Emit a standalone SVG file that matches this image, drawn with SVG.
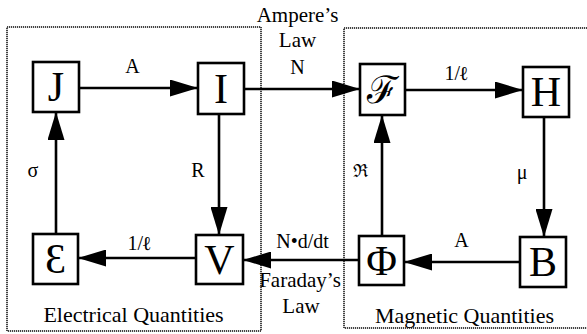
<svg xmlns="http://www.w3.org/2000/svg" width="587" height="334" viewBox="0 0 587 334" font-family="'Liberation Serif', 'Times New Roman', serif">
<defs>
<marker id="ah" markerUnits="userSpaceOnUse" markerWidth="28" markerHeight="17" refX="28" refY="8.5" orient="auto">
<path d="M0,0 L28,8.5 L0,17 Z" fill="#000"/>
</marker>
<style>
.frame{fill:none;stroke:#444;stroke-width:2;stroke-dasharray:1.2 0.8}
.box{fill:#fff;stroke:#000;stroke-width:2.6}
text{fill:#000;text-anchor:middle}
.big{font-size:42px}
.lbl{font-size:20px}
.ttl{font-size:22px}
.con{fill:none;stroke:#000;stroke-width:2.6;marker-end:url(#ah)}
</style>
</defs>
<rect fill="#fff" x="0" y="0" width="587" height="334"/>
<g id="electrical-frame">
<rect class="frame" x="7" y="27" width="254" height="304"/>
<text class="ttl" x="133.5" y="322">Electrical Quantities</text>
</g>
<g id="magnetic-frame">
<rect class="frame" x="344" y="28" width="250" height="300"/>
<text class="ttl" x="464.5" y="323">Magnetic Quantities</text>
</g>
<g id="connectors">
<line class="con" x1="79" y1="88" x2="198" y2="88"/>
<line class="con" x1="244" y1="89" x2="360" y2="89"/>
<line class="con" x1="405" y1="90" x2="523" y2="90"/>
<line class="con" x1="544" y1="117" x2="544" y2="237"/>
<line class="con" x1="520" y1="262" x2="404" y2="262"/>
<line class="con" x1="359" y1="260" x2="243" y2="260"/>
<line class="con" x1="196" y1="258" x2="78" y2="258"/>
<line class="con" x1="56" y1="234" x2="56" y2="112"/>
<line class="con" x1="219" y1="114" x2="219" y2="235"/>
<line class="con" x1="382" y1="236" x2="382" y2="115"/>
<text class="lbl" x="132.5" y="73">A</text>
<text class="lbl" x="297.5" y="22" style="font-size:21px">Ampere’s</text>
<text class="lbl" x="297.5" y="47" style="font-size:21px">Law</text>
<text class="lbl" x="297.5" y="74">N</text>
<text class="lbl" x="456" y="80">1/<tspan style="font-weight:bold">ℓ</tspan></text>
<text class="lbl" x="33" y="177">σ</text>
<text class="lbl" x="198" y="177">R</text>
<text class="lbl" x="360" y="177" style="font-size:18px">ℜ</text>
<text class="lbl" x="522" y="179">μ</text>
<text class="lbl" x="139" y="250">1/<tspan style="font-weight:bold">ℓ</tspan></text>
<text class="lbl" x="461.5" y="247">A</text>
<text class="lbl" x="302.5" y="248">N•d/dt</text>
<text class="lbl" x="300" y="287" style="font-size:21px">Faraday’s</text>
<text class="lbl" x="301" y="313" style="font-size:21px">Law</text>
</g>
<g id="J"><rect class="box" x="33" y="62" width="46" height="50"/><text class="big" x="56" y="101">J</text></g>
<g id="I"><rect class="box" x="198" y="63" width="46" height="51"/><text class="big" x="221" y="103">I</text></g>
<g id="F"><rect class="box" x="360" y="64" width="45" height="51"/><text class="big" x="382.5" y="103" style="font-size:38px">ℱ</text></g>
<g id="H"><rect class="box" x="523" y="67" width="46" height="50"/><text class="big" x="546" y="106">H</text></g>
<g id="E"><rect class="box" x="33" y="234" width="45" height="50"/><text class="big" x="55.5" y="273">Ɛ</text></g>
<g id="V"><rect class="box" x="196" y="235" width="47" height="49"/><text class="big" x="219.5" y="274">V</text></g>
<g id="Phi"><rect class="box" x="359" y="236" width="45" height="49"/><text class="big" x="381.5" y="275">Φ</text></g>
<g id="B"><rect class="box" x="520" y="237" width="46" height="50"/><text class="big" x="543" y="276">B</text></g>
</svg>
